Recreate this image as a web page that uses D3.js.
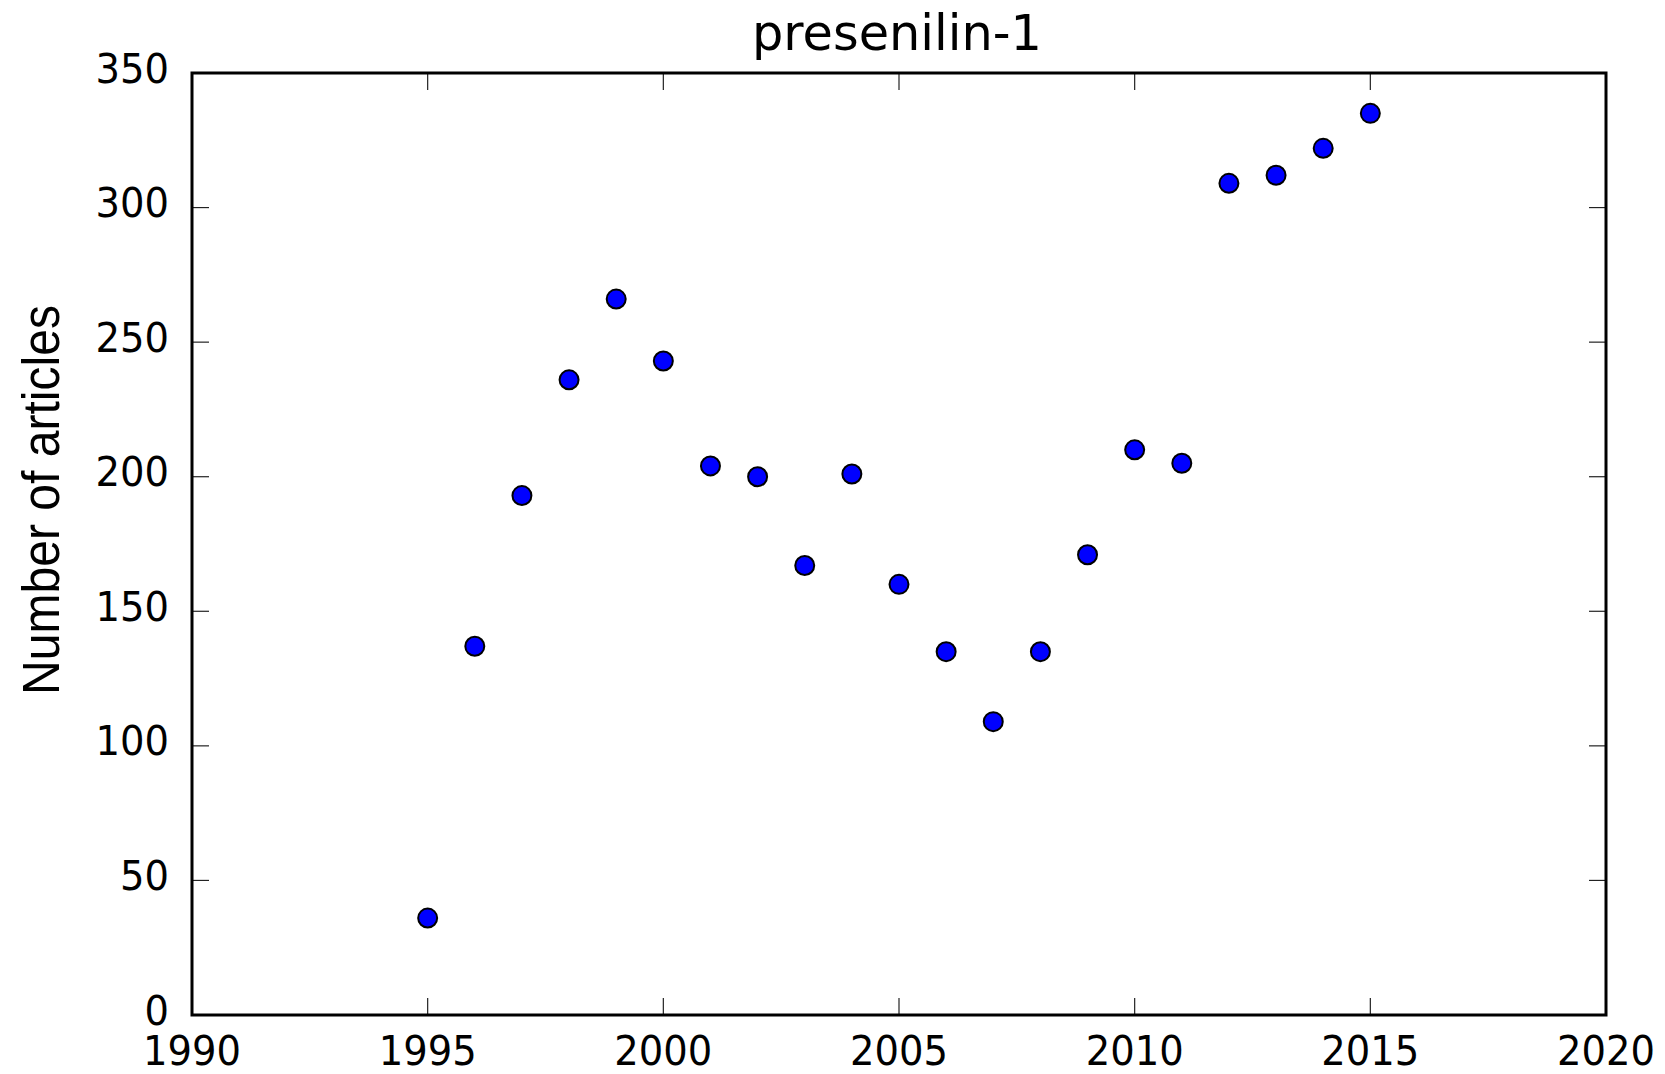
<!DOCTYPE html>
<html>
<head>
<meta charset="utf-8">
<script src="https://cdn.jsdelivr.net/npm/d3@7"></script>
<style>
html,body{margin:0;padding:0;background:#fff;}
svg{display:block;}
</style>
</head>
<body>
<svg id="chart" width="1665" height="1074"></svg>
<script>
const years = [1995,1996,1997,1998,1999,2000,2001,2002,2003,2004,2005,2006,2007,2008,2009,2010,2011,2012,2013,2014,2015];
const articles = [36,137,193,236,266,243,204,200,167,201,160,135,109,135,171,210,205,309,312,322,335];
const xTicks = [1990,1995,2000,2005,2010,2015,2020];
const yTicks = [0,50,100,150,200,250,300,350];
const titleText = "presenilin-1";
const yLabelText = "Number of articles";

const svg = d3.select("#chart");
const L = 192, R = 1606, T = 73, B = 1015;
const x = d3.scaleLinear().domain([1990, 2020]).range([L, R]);
const y = d3.scaleLinear().domain([0, 350]).range([B, T]);
const tickLen = 17;

// ticks inward on all sides
const tg = svg.append("g");
xTicks.forEach(t => {
  tg.append("line").attr("x1", x(t)).attr("x2", x(t)).attr("y1", B).attr("y2", B - tickLen)
    .attr("stroke", "#222").attr("stroke-width", 1.2);
  tg.append("line").attr("x1", x(t)).attr("x2", x(t)).attr("y1", T).attr("y2", T + tickLen)
    .attr("stroke", "#222").attr("stroke-width", 1.2);
});
yTicks.forEach(t => {
  tg.append("line").attr("x1", L).attr("x2", L + tickLen).attr("y1", y(t)).attr("y2", y(t))
    .attr("stroke", "#222").attr("stroke-width", 1.2);
  tg.append("line").attr("x1", R).attr("x2", R - tickLen).attr("y1", y(t)).attr("y2", y(t))
    .attr("stroke", "#222").attr("stroke-width", 1.2);
});

// tick labels
const fontTick = "'DejaVu Sans', sans-serif";
xTicks.forEach(t => {
  const s = String(t);
  svg.append("text").attr("x", x(t)).attr("y", 1065)
    .attr("text-anchor", "middle")
    .attr("font-family", fontTick).attr("font-size", 41)
    .attr("textLength", 24.5 * s.length).attr("lengthAdjust", "spacingAndGlyphs")
    .attr("fill", "#000").text(s);
});
yTicks.forEach(t => {
  const s = String(t);
  svg.append("text").attr("x", 169).attr("y", y(t) + 9.5)
    .attr("text-anchor", "end")
    .attr("font-family", fontTick).attr("font-size", 41)
    .attr("textLength", 24.5 * s.length).attr("lengthAdjust", "spacingAndGlyphs")
    .attr("fill", "#000").text(s);
});

// points
svg.append("g").selectAll("circle").data(years.map((d, i) => ({yr: d, v: articles[i]})))
  .join("circle")
  .attr("cx", d => x(d.yr)).attr("cy", d => y(d.v)).attr("r", 9.5)
  .attr("fill", "#0000ff").attr("stroke", "#000").attr("stroke-width", 2);

// frame
svg.append("rect").attr("x", L).attr("y", T).attr("width", R - L).attr("height", B - T)
  .attr("fill", "none").attr("stroke", "#000").attr("stroke-width", 3);

// title
svg.append("text").attr("x", (L + R) / 2 - 2).attr("y", 50)
  .attr("text-anchor", "middle")
  .attr("font-family", "'DejaVu Sans', sans-serif").attr("font-size", 50)
  .attr("textLength", 290).attr("lengthAdjust", "spacingAndGlyphs")
  .attr("fill", "#000").text(titleText);

// y label
svg.append("text").attr("transform", "translate(59,500) rotate(-90)")
  .attr("text-anchor", "middle")
  .attr("font-family", "'Liberation Sans', Arial, sans-serif").attr("font-size", 51)
  .attr("textLength", 390).attr("lengthAdjust", "spacingAndGlyphs")
  .attr("fill", "#000").text(yLabelText);
</script>
</body>
</html>
